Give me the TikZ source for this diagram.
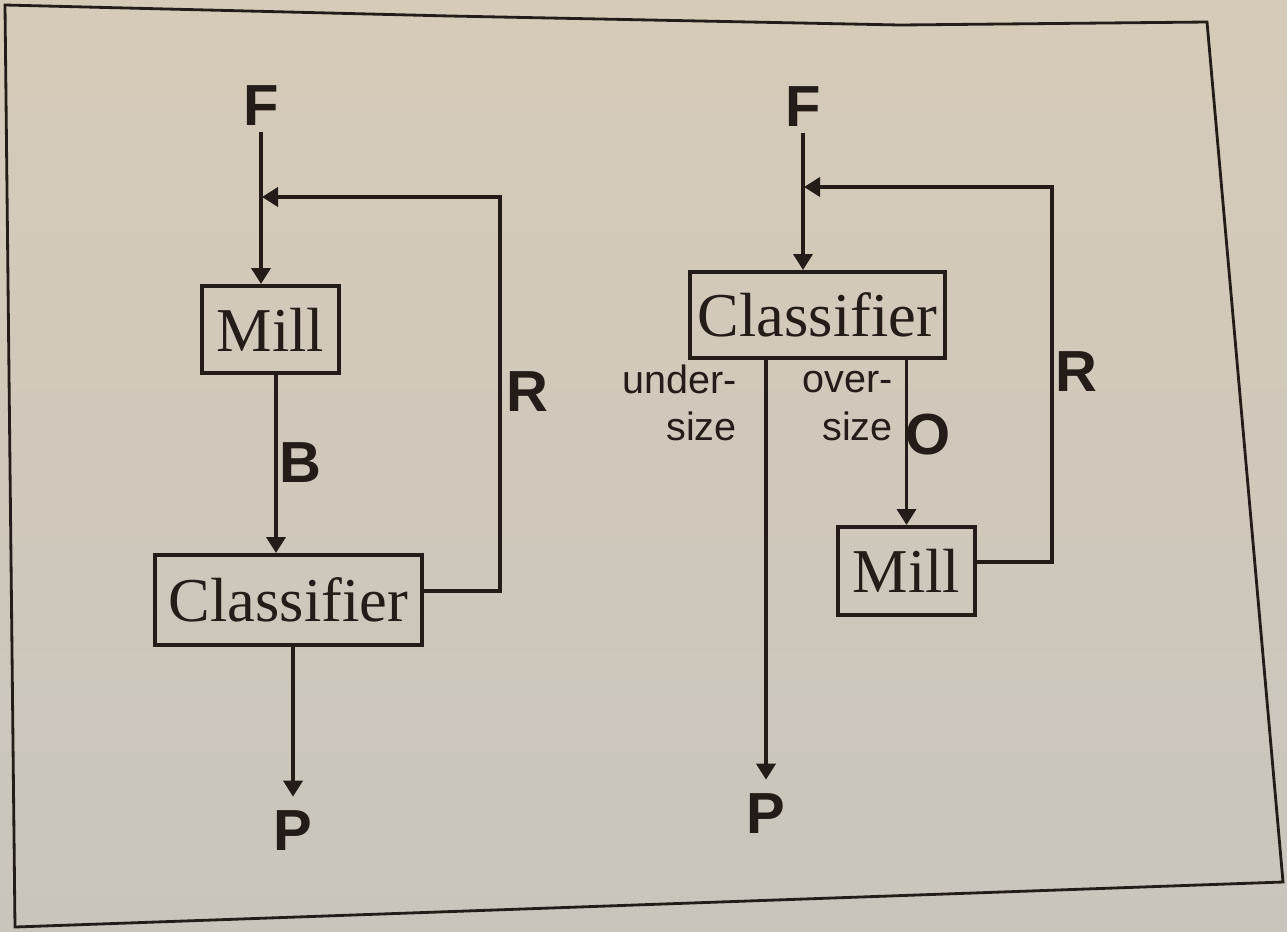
\documentclass[tikz,border=0pt]{standalone}
\usepackage{fontspec}
\setmainfont{Liberation Serif}
\newfontfamily\arialf{Liberation Sans}
\usetikzlibrary{arrows.meta}
\definecolor{ink}{RGB}{35,28,24}
\definecolor{paperA}{RGB}{214,203,184}
\definecolor{paperB}{RGB}{201,197,189}
\tikzset{
 box/.style={draw=ink, line width=2.3pt, text=ink, font=\fontsize{35.5}{40}\selectfont, inner sep=0pt},
 flow/.style={draw=ink, line width=2.1pt, -{Triangle[length=0.32cm,width=0.38cm]}},
 big/.style={text=ink, font=\arialf\bfseries\fontsize{33}{38}\selectfont, inner sep=3pt},
 small/.style={text=ink, font=\arialf\fontsize{22.5}{26}\selectfont, inner sep=0pt},
 frame/.style={draw=ink, line width=1.6pt},
}
\begin{document}
\begin{tikzpicture}[x=0.02cm,y=-0.02cm]
\useasboundingbox (0,0) rectangle (1287,931);
\shade[top color=paperA, bottom color=paperB] (0,0) rectangle (1287,931);
\draw[frame] (5,5) -- (450,16) -- (900,25) -- (1207,22) -- (1283,882) -- (15,927) -- cycle;

% left diagram
\node[box, minimum width=2.74cm, minimum height=1.74cm] (LM) at (270.5,329.5) {Mill};
\node[box, minimum width=5.34cm, minimum height=1.8cm] (LC) at (288.5,600) {Classifier};
\node[big] (LF) at (261,106) {F};
\node[big] (LB) at (300,463) {B};
\node[big] (LR) at (527,392) {R};
\node[big, inner ysep=8pt] (LP) at (293,831) {P};
\coordinate (LJ) at (262,197);
\coordinate (LRt) at (500,197);
\draw[flow] (LF.south) -- (LF.south |- LM.north);
\draw[flow] ([xshift=0.11cm]LM.south) -- ([xshift=0.11cm]LM.south |- LC.north);
\draw[flow] ([yshift=0.18cm]LC.east) -| (LRt) -- (LJ);
\draw[flow] (LP.north |- LC.south) -- (LP.north);

% right diagram
\node[box, minimum width=5.1cm, minimum height=1.72cm] (RC) at (817.5,315) {Classifier};
\node[box, minimum width=2.74cm, minimum height=1.76cm] (RM) at (906.5,571) {Mill};
\node[big] (RF) at (803,107) {F};
\node[big] (RR) at (1076,372) {R};
\node[big] (RO) at (928,435) {O};
\node[big, inner ysep=8pt] (RP) at (766,814) {P};
\node[small, anchor=base east] (U1) at (737,393) {under-};
\node[small, anchor=base east] (U2) at (737,440) {size};
\node[small, anchor=base east] (O1) at (893,392) {over-};
\node[small, anchor=base east] (O2) at (893,440) {size};
\coordinate (RJ) at (804,187);
\coordinate (RRt) at (1052,187);
\draw[flow] (RF.south) -- (RF.south |- RC.north);
\draw[flow] ([yshift=0.18cm]RM.east) -| (RRt) -- (RJ);
\draw[flow] (RP.north |- RC.south) -- (RP.north);
\draw[flow] (RM.north |- RC.south) -- (RM.north);
\end{tikzpicture}
\end{document}
